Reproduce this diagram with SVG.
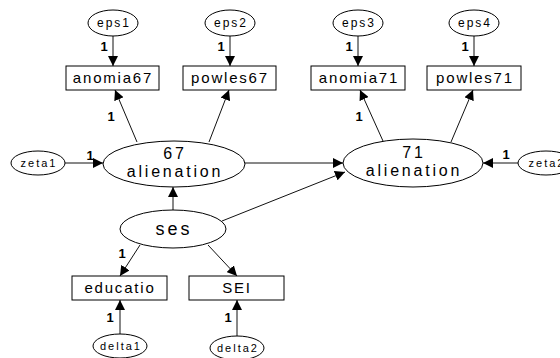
<svg xmlns="http://www.w3.org/2000/svg" width="560" height="358" viewBox="0 0 560 358">
<style>
.n ellipse,.n rect{fill:#fff;stroke:#000;stroke-width:1}
.t{font-family:"Liberation Sans",Arial,sans-serif;fill:#000;text-anchor:middle}
.sm{font-size:12px;letter-spacing:2px}
.xs{font-size:11px;letter-spacing:2px}
.box{font-size:15px;letter-spacing:1.8px}
.lat{font-size:16px;letter-spacing:2.8px}
.ses{font-size:18px;letter-spacing:3px}
.one{font-family:"Liberation Sans",Arial,sans-serif;font-size:13px;font-weight:bold;fill:#000;text-anchor:middle}
#edges line{stroke:#111;stroke-width:1;marker-end:url(#ah)}
</style>
<defs>
<marker id="ah" viewBox="0 0 10 10" refX="10" refY="5" markerWidth="10" markerHeight="10" markerUnits="userSpaceOnUse" orient="auto">
<path d="M0,0 L10,5 L0,10 z" fill="#000"/>
</marker>
</defs>
<rect width="560" height="358" fill="#fff"/>
<g id="edges">
<line x1="113" y1="36" x2="113" y2="66"/>
<line x1="230" y1="36" x2="230" y2="66"/>
<line x1="358" y1="36" x2="358" y2="66"/>
<line x1="474" y1="36" x2="474" y2="66"/>
<line x1="137" y1="142" x2="115" y2="90"/>
<line x1="209" y1="142" x2="229" y2="90"/>
<line x1="383" y1="141" x2="360" y2="90"/>
<line x1="451" y1="142" x2="473" y2="90"/>
<line x1="65" y1="163" x2="103" y2="163"/>
<line x1="518" y1="163" x2="483" y2="163"/>
<line x1="245" y1="163" x2="343" y2="163"/>
<line x1="173" y1="210" x2="173" y2="187"/>
<line x1="222" y1="221" x2="345" y2="172"/>
<line x1="140" y1="245" x2="120" y2="276"/>
<line x1="208" y1="245" x2="237" y2="276"/>
<line x1="120" y1="334" x2="120" y2="300"/>
<line x1="237" y1="336" x2="237" y2="300"/>
</g>
<g id="labels">
<text class="one" x="104" y="51">1</text>
<text class="one" x="221" y="51">1</text>
<text class="one" x="349" y="51">1</text>
<text class="one" x="465" y="51">1</text>
<text class="one" x="111" y="121">1</text>
<text class="one" x="359" y="121">1</text>
<text class="one" x="90" y="160">1</text>
<text class="one" x="506" y="159">1</text>
<text class="one" x="122" y="258">1</text>
<text class="one" x="110" y="322">1</text>
<text class="one" x="228" y="322">1</text>
</g>
<g id="eps1" class="n"><ellipse cx="113" cy="23" rx="25" ry="13"/><text class="t sm" x="114" y="27">eps1</text></g>
<g id="eps2" class="n"><ellipse cx="230" cy="23" rx="25" ry="13"/><text class="t sm" x="231" y="27">eps2</text></g>
<g id="eps3" class="n"><ellipse cx="358" cy="23" rx="25" ry="13"/><text class="t sm" x="359" y="27">eps3</text></g>
<g id="eps4" class="n"><ellipse cx="474" cy="23" rx="25" ry="13"/><text class="t sm" x="475" y="27">eps4</text></g>
<g id="anomia67" class="n"><rect x="66" y="66" width="93" height="24"/><text class="t box" x="113" y="83">anomia67</text></g>
<g id="powles67" class="n"><rect x="183" y="66" width="93" height="24"/><text class="t box" x="230" y="83">powles67</text></g>
<g id="anomia71" class="n"><rect x="311" y="66" width="94" height="24"/><text class="t box" x="359" y="83">anomia71</text></g>
<g id="powles71" class="n"><rect x="427" y="66" width="94" height="24"/><text class="t box" x="475" y="83">powles71</text></g>
<g id="alienation67" class="n"><ellipse cx="174" cy="164" rx="71" ry="23"/><text class="t lat" x="175" y="159">67</text><text class="t lat" x="175" y="177">alienation</text></g>
<g id="alienation71" class="n"><ellipse cx="413" cy="163" rx="70" ry="24"/><text class="t lat" x="414" y="158">71</text><text class="t lat" x="414" y="176">alienation</text></g>
<g id="zeta1" class="n"><ellipse cx="38" cy="163" rx="27" ry="12"/><text class="t xs" x="39" y="167">zeta1</text></g>
<g id="zeta2" class="n"><ellipse cx="546" cy="163" rx="28" ry="12"/><text class="t xs" x="547" y="167">zeta2</text></g>
<g id="ses" class="n"><ellipse cx="173" cy="229" rx="53" ry="19"/><text class="t ses" x="174" y="235">ses</text></g>
<g id="educatio" class="n"><rect x="72" y="276" width="95" height="24"/><text class="t box" x="120" y="293">educatio</text></g>
<g id="SEI" class="n"><rect x="189" y="276" width="95" height="24"/><text class="t box" x="237" y="293">SEI</text></g>
<g id="delta1" class="n"><ellipse cx="120" cy="346" rx="27" ry="12"/><text class="t xs" x="121" y="350">delta1</text></g>
<g id="delta2" class="n"><ellipse cx="237" cy="348" rx="27" ry="12"/><text class="t xs" x="238" y="352">delta2</text></g>
</svg>
